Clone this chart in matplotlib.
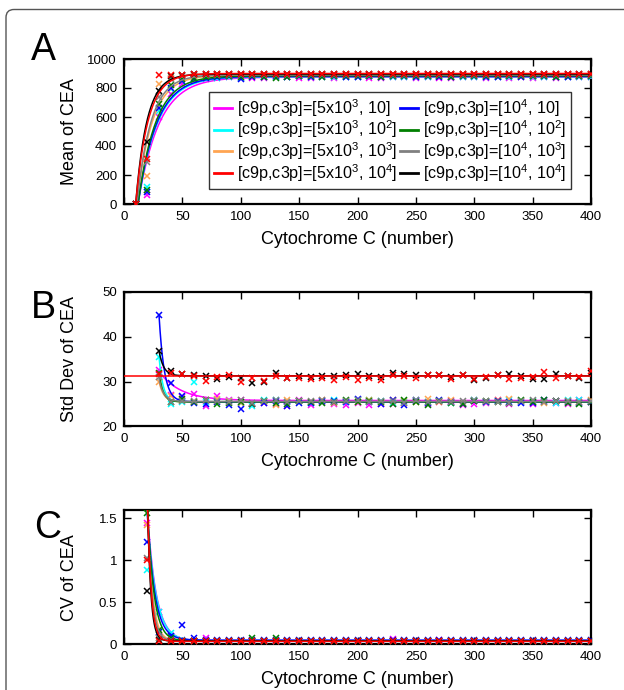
import numpy as np
import matplotlib
matplotlib.use("Agg")
import matplotlib.pyplot as plt
from matplotlib.patches import FancyBboxPatch
from matplotlib.transforms import IdentityTransform
from matplotlib.ticker import FuncFormatter

plt.rcParams['font.family'] = ['Liberation Sans', 'DejaVu Sans']
plt.rcParams['mathtext.fontset'] = 'custom'
plt.rcParams['mathtext.rm'] = 'Liberation Sans'
plt.rcParams['mathtext.it'] = 'Liberation Sans:italic'

# series: [c9p, c3p] combinations
labels = [r'[c9p,c3p]=[5x10$^3$, 10]', r'[c9p,c3p]=[5x10$^3$, 10$^2$]',
          r'[c9p,c3p]=[5x10$^3$, 10$^3$]', r'[c9p,c3p]=[5x10$^3$, 10$^4$]',
          r'[c9p,c3p]=[10$^4$, 10]', r'[c9p,c3p]=[10$^4$, 10$^2$]',
          r'[c9p,c3p]=[10$^4$, 10$^3$]', r'[c9p,c3p]=[10$^4$, 10$^4$]']
colors = ['#ff00ff', '#00ffff', '#ffa552', '#ff0000',
          '#0000ff', '#007f00', '#808080', '#000000']
zorders = [3, 3, 3, 6, 3, 3, 4, 5]

# ---- panel A: mean of CEA, cytochrome c = 10..400
x_mean = list(range(10, 410, 10))
mean_vals = [
    [0, 60, 600, 760, 830, 855, 865, 870, 875, 870, 872, 870, 875, 878, 870, 872, 875, 870, 876, 874,
     872, 870, 877, 873, 871, 875, 870, 872, 874, 876, 871, 873, 870, 875, 872, 874, 871, 876, 873, 875],
    [0, 115, 640, 790, 845, 860, 868, 872, 878, 870, 880, 876, 874, 878, 880, 875, 877, 879, 874, 878,
     880, 876, 875, 879, 877, 874, 880, 878, 876, 875, 879, 877, 874, 880, 876, 878, 877, 875, 879, 878],
    [0, 190, 830, 870, 880, 885, 886, 888, 885, 888, 886, 889, 887, 885, 888, 886, 889, 887, 885, 888,
     890, 886, 888, 887, 885, 889, 887, 886, 888, 890, 886, 888, 887, 889, 886, 888, 890, 887, 885, 888],
    [0, 310, 890, 892, 893, 895, 897, 898, 896, 898, 897, 899, 898, 897, 899, 898, 896, 898, 899, 897,
     898, 896, 899, 898, 897, 898, 899, 897, 898, 896, 899, 898, 897, 899, 898, 897, 898, 899, 897, 898],
    [0, 80, 660, 800, 850, 865, 870, 875, 880, 860, 878, 875, 880, 876, 880, 878, 882, 880, 876, 879,
     881, 877, 880, 882, 878, 880, 876, 879, 881, 880, 877, 879, 882, 878, 880, 881, 877, 879, 880, 882],
    [0, 100, 690, 820, 860, 872, 878, 880, 882, 878, 880, 876, 870, 874, 880, 883, 879, 881, 884, 880,
     882, 879, 883, 881, 880, 884, 882, 879, 883, 881, 880, 884, 882, 880, 883, 881, 879, 882, 884, 881],
    [0, 290, 740, 860, 880, 887, 889, 890, 888, 890, 889, 891, 888, 890, 892, 889, 890, 888, 891, 890,
     889, 892, 890, 888, 891, 889, 890, 892, 888, 890, 891, 889, 890, 892, 889, 890, 888, 891, 890, 889],
    [0, 430, 780, 885, 890, 895, 896, 897, 895, 897, 896, 898, 897, 895, 897, 896, 898, 896, 897, 895,
     897, 898, 896, 897, 895, 897, 896, 898, 897, 896, 895, 897, 896, 898, 897, 896, 897, 895, 897, 896],
]
# fitted saturation curves: plateau, onset, time constant
mean_plateau = [875, 878, 888, 900, 880, 884, 890, 896]
mean_onset = [12, 12, 11, 10, 12, 12, 11, 10]
mean_tau = [18, 16.5, 13, 10.5, 16, 15, 12, 9.5]

# ---- panel B: std dev of CEA, cytochrome c = 30..400
x_std = list(range(30, 410, 10))
std_vals = [
    [32.5, 27.0, 26.5, 27.3, 24.5, 26.8, 25.8, 26.0, 25.3, 25.3, 25.0, 24.6, 25.8, 24.8, 25.5, 25.1, 24.8, 25.3, 24.9,
     25.0, 25.0, 25.3, 25.8, 25.1, 25.5, 25.7, 24.9, 25.0, 25.3, 25.8, 25.1, 25.4, 25.0, 25.6, 25.3, 25.1, 26.0, 25.4],
    [35.5, 25.0, 25.5, 30.0, 25.5, 25.8, 25.7, 25.2, 24.6, 25.8, 25.9, 25.5, 25.7, 25.3, 25.6, 26.0, 25.4, 25.9, 25.8,
     25.6, 25.3, 25.5, 26.0, 25.4, 25.7, 25.3, 25.2, 25.9, 25.5, 25.6, 25.8, 25.4, 25.7, 25.5, 25.3, 25.9, 26.0, 25.7],
    [30.0, 26.8, 25.8, 25.5, 25.8, 26.2, 25.6, 25.3, 25.0, 25.4, 24.9, 26.0, 25.7, 25.5, 25.9, 25.3, 25.6, 25.4, 26.0,
     25.2, 25.8, 25.6, 25.4, 26.1, 25.5, 25.8, 25.3, 25.6, 25.4, 25.9, 26.1, 25.6, 25.5, 25.2, 25.7, 25.6, 25.4, 25.9],
    [31.8, 32.0, 31.6, 31.3, 30.2, 31.1, 31.4, 30.0, 30.8, 30.1, 31.2, 30.9, 30.9, 30.7, 30.9, 30.4, 31.1, 30.3, 30.8,
     30.3, 31.4, 31.3, 30.9, 31.4, 31.4, 30.5, 31.4, 30.6, 31.0, 31.5, 30.7, 30.9, 31.1, 32.1, 30.8, 31.3, 31.0, 32.3],
    [44.8, 29.8, 26.8, 25.2, 25.0, 25.5, 24.8, 24.0, 25.0, 25.2, 25.6, 24.5, 25.3, 25.2, 25.6, 25.7, 25.4, 26.1, 25.5,
     25.0, 25.9, 24.9, 25.7, 25.3, 25.8, 25.5, 25.1, 25.7, 25.4, 25.6, 25.5, 25.3, 25.2, 25.8, 25.7, 25.5, 25.3, 25.4],
    [32.0, 25.5, 26.2, 25.5, 26.0, 25.0, 25.3, 25.5, 25.1, 25.6, 25.3, 25.0, 25.6, 25.4, 25.2, 25.5, 25.8, 25.4, 25.7,
     25.4, 25.0, 25.9, 25.5, 24.9, 25.6, 25.3, 25.0, 25.6, 25.7, 25.4, 25.3, 25.8, 25.5, 25.9, 25.6, 25.2, 25.0, 25.5],
    [31.0, 25.4, 25.6, 25.6, 26.0, 25.7, 25.5, 25.8, 25.3, 25.6, 25.9, 25.4, 25.7, 25.6, 25.8, 25.5, 25.6, 25.9, 25.4,
     25.7, 25.6, 25.3, 25.8, 25.5, 25.6, 25.4, 25.7, 25.9, 25.6, 25.5, 25.3, 25.6, 25.8, 25.5, 25.7, 25.6, 25.4, 25.6],
    [36.8, 32.3, 31.6, 31.4, 31.2, 30.7, 31.1, 30.9, 29.8, 30.0, 31.9, 30.9, 31.2, 31.0, 31.2, 31.2, 31.5, 31.6, 31.2,
     31.0, 32.0, 31.6, 31.4, 31.4, 31.5, 31.1, 31.5, 30.4, 30.8, 31.5, 31.6, 31.2, 30.6, 30.5, 31.6, 31.2, 30.9, 31.9],
]
# fitted decay curves: amplitude at x=30, time constant, baseline, first x drawn
std_amp = [6.5, 10.0, 4.5, 0.0, 19.3, 6.5, 5.0, 5.5]
std_tau = [18, 3.5, 4.0, 4.0, 4.5, 3.5, 4.0, 4.0]
std_base = [25.8, 25.5, 25.5, 31.2, 25.5, 25.5, 25.6, 31.3]
std_start = [30, 30, 30, 0, 30, 30, 30, 30]

# ---- panel C: CV of CEA, cytochrome c = 20..400
x_cv = list(range(20, 410, 10))
cv_vals = [
    [1.45, 0.38, 0.10, 0.05, 0.04, 0.07, 0.04, 0.04, 0.04, 0.04, 0.04, 0.04, 0.04, 0.04, 0.04, 0.04, 0.04, 0.04, 0.04, 0.04,
     0.04, 0.06, 0.04, 0.04, 0.04, 0.05, 0.04, 0.04, 0.04, 0.04, 0.04, 0.04, 0.04, 0.04, 0.04, 0.04, 0.04, 0.04, 0.04],
    [0.89, 0.38, 0.13, 0.05, 0.04, 0.04, 0.04, 0.04, 0.04, 0.04, 0.04, 0.04, 0.04, 0.04, 0.04, 0.04, 0.04, 0.04, 0.04, 0.04,
     0.04, 0.04, 0.04, 0.04, 0.04, 0.04, 0.04, 0.04, 0.04, 0.04, 0.04, 0.04, 0.04, 0.04, 0.04, 0.04, 0.04, 0.04, 0.04],
    [1.42, 0.07, 0.05, 0.04, 0.04, 0.04, 0.04, 0.04, 0.04, 0.04, 0.04, 0.04, 0.04, 0.04, 0.04, 0.04, 0.04, 0.04, 0.04, 0.04,
     0.04, 0.04, 0.04, 0.04, 0.04, 0.04, 0.04, 0.04, 0.04, 0.04, 0.04, 0.04, 0.04, 0.04, 0.04, 0.04, 0.04, 0.04, 0.04],
    [1.00, 0.04, 0.04, 0.04, 0.035, 0.035, 0.035, 0.035, 0.035, 0.035, 0.035, 0.035, 0.035, 0.035, 0.035, 0.035, 0.035, 0.035, 0.035, 0.035,
     0.035, 0.035, 0.035, 0.035, 0.035, 0.035, 0.035, 0.035, 0.035, 0.035, 0.035, 0.035, 0.035, 0.035, 0.035, 0.035, 0.035, 0.035, 0.035],
    [1.22, 0.15, 0.10, 0.23, 0.08, 0.05, 0.05, 0.05, 0.05, 0.05, 0.05, 0.05, 0.05, 0.05, 0.05, 0.05, 0.05, 0.05, 0.05, 0.05,
     0.05, 0.05, 0.05, 0.05, 0.05, 0.05, 0.05, 0.05, 0.05, 0.05, 0.05, 0.05, 0.05, 0.05, 0.05, 0.05, 0.05, 0.05, 0.05],
    [1.57, 0.17, 0.08, 0.04, 0.04, 0.04, 0.04, 0.04, 0.04, 0.07, 0.04, 0.07, 0.04, 0.04, 0.04, 0.04, 0.04, 0.04, 0.04, 0.04,
     0.04, 0.04, 0.04, 0.04, 0.04, 0.04, 0.04, 0.04, 0.04, 0.04, 0.04, 0.04, 0.04, 0.04, 0.04, 0.04, 0.04, 0.04, 0.04],
    [1.03, 0.08, 0.05, 0.04, 0.04, 0.04, 0.04, 0.04, 0.04, 0.04, 0.04, 0.04, 0.04, 0.04, 0.04, 0.04, 0.04, 0.04, 0.04, 0.04,
     0.04, 0.04, 0.04, 0.04, 0.04, 0.04, 0.04, 0.04, 0.04, 0.04, 0.04, 0.04, 0.04, 0.04, 0.04, 0.04, 0.04, 0.04, 0.04],
    [0.64, 0.05, 0.04, 0.04, 0.04, 0.04, 0.04, 0.04, 0.04, 0.04, 0.04, 0.04, 0.04, 0.04, 0.04, 0.04, 0.04, 0.04, 0.04, 0.04,
     0.04, 0.04, 0.04, 0.04, 0.04, 0.04, 0.04, 0.04, 0.04, 0.04, 0.04, 0.04, 0.04, 0.04, 0.04, 0.04, 0.04, 0.04, 0.04],
]
# fitted decay curves: amplitude at x=20, time constant, baseline
cv_amp = [1.55, 1.5, 1.6, 1.7, 1.5, 1.6, 1.6, 1.7]
cv_tau = [7.5, 7.5, 4.3, 3.2, 6.5, 5.5, 3.8, 2.8]
cv_base = [0.04, 0.04, 0.04, 0.035, 0.05, 0.04, 0.04, 0.04]

W, H = 624, 690
fig = plt.figure(figsize=(W / 100, H / 100), dpi=100)

# rounded outer frame (runs off the right and bottom edge)
frame = FancyBboxPatch((6, -30), 700, H - 9.5 + 30, boxstyle='round,pad=0,rounding_size=8',
                       transform=IdentityTransform(), facecolor='none', edgecolor='#555555', lw=1.0)
fig.patches.append(frame)


def make_axes(top_px, bot_px):
    ax = fig.add_axes([124 / W, 1 - bot_px / H, (591 - 124) / W, (bot_px - top_px) / H])
    for s in ax.spines.values():
        s.set_linewidth(1.6)
    ax.tick_params(direction='in', length=5, width=1, top=True, right=True, labelsize=9.5, pad=5)
    ax.set_xlim(0, 400)
    ax.set_xticks(range(0, 401, 50))
    ax.set_xlabel('Cytochrome C (number)', fontsize=13)
    ax.xaxis.set_label_coords(0.5, -27 / (bot_px - top_px))
    ax.yaxis.set_label_coords(-46 / 467, 0.5)
    return ax


# panel A
axA = make_axes(59, 204)
handles = []
for i in range(8):
    xf = np.linspace(mean_onset[i], 400, 800)
    fit = mean_plateau[i] * (1 - np.exp(-(xf - mean_onset[i]) / mean_tau[i]))
    h, = axA.plot(xf, fit, color=colors[i], lw=1.1, zorder=zorders[i])
    axA.plot(x_mean, mean_vals[i], 'x', color=colors[i], ms=4.5, mew=1.1, zorder=zorders[i])
    handles.append(h)
axA.set_ylim(0, 1000)
axA.set_yticks(range(0, 1001, 200))
axA.set_ylabel('Mean of CEA', fontsize=13)
leg = axA.legend(handles, labels, ncol=2, loc='upper right', bbox_to_anchor=(0.957, 0.772),
                 fontsize=11.6, handlelength=1.1, handletextpad=0.3, columnspacing=0.2,
                 labelspacing=0.0, borderpad=0.3, borderaxespad=0, fancybox=False,
                 framealpha=1, edgecolor='#333333')
leg.get_frame().set_linewidth(1.0)
for ln in leg.get_lines():
    ln.set_linewidth(2)

# panel B
axB = make_axes(292, 426.5)
for i in range(8):
    xf = np.linspace(std_start[i], 400, 800)
    fit = std_base[i] + std_amp[i] * np.exp(-(xf - 30) / std_tau[i])
    axB.plot(xf, fit, color=colors[i], lw=1.1, zorder=zorders[i])
    axB.plot(x_std, std_vals[i], 'x', color=colors[i], ms=4.5, mew=1.1, zorder=zorders[i])
axB.set_ylim(20, 50)
axB.set_yticks([20, 30, 40, 50])
axB.set_ylabel('Std Dev of CEA', fontsize=13)

# panel C
axC = make_axes(510, 644.3)
for i in range(8):
    xf = np.linspace(20, 400, 1520)
    fit = cv_base[i] + cv_amp[i] * np.exp(-(xf - 20) / cv_tau[i])
    axC.plot(xf, fit, color=colors[i], lw=1.1, zorder=zorders[i])
    axC.plot(x_cv, cv_vals[i], 'x', color=colors[i], ms=4.5, mew=1.1, zorder=zorders[i])
axC.set_ylim(0, 1.6)
axC.set_yticks([0, 0.5, 1, 1.5])
axC.yaxis.set_major_formatter(FuncFormatter(lambda v, p: '%g' % v))
axC.set_ylabel('CV of CEA', fontsize=13)

# panel letters
fig.text(31 / W, 1 - 60 / H, 'A', fontsize=27, va='baseline', ha='left')
fig.text(31 / W, 1 - 318 / H, 'B', fontsize=27, va='baseline', ha='left')
fig.text(34 / W, 1 - 538 / H, 'C', fontsize=27, va='baseline', ha='left')

fig.savefig('out.png', dpi=100)
